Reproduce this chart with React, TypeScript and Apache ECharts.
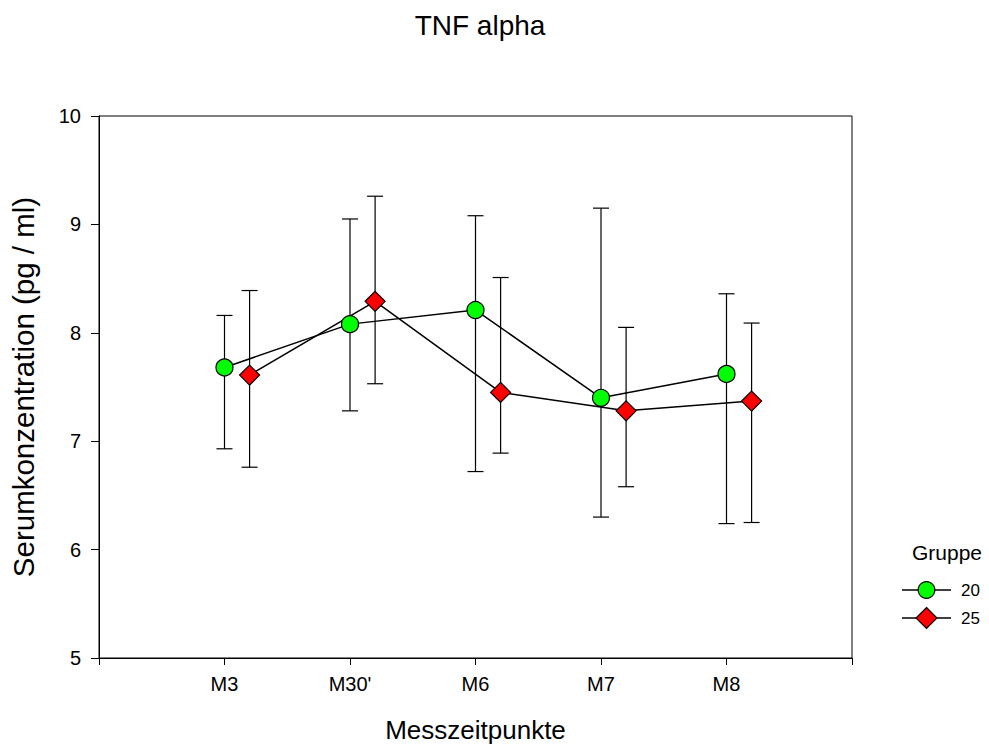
import React, { useEffect, useRef } from "react";
import * as echarts from "echarts";

const categories = ["M3", "M30'", "M6", "M7", "M8"];
const groupNames = ["20", "25"];
const legendTitle = "Gruppe";
const g20Mean = [7.68, 8.08, 8.21, 7.40, 7.62];
const g20Upper = [8.16, 9.05, 9.08, 9.15, 8.36];
const g20Lower = [6.93, 7.28, 6.72, 6.30, 6.24];
const g25Mean = [7.61, 8.29, 7.45, 7.28, 7.37];
const g25Upper = [8.39, 9.26, 8.51, 8.05, 8.09];
const g25Lower = [6.76, 7.53, 6.89, 6.58, 6.25];
const offsets = [0, 0.2];

export default function App() {
  const ref = useRef<HTMLDivElement>(null);
  useEffect(() => {
    document.body.style.margin = "0";
    const chart = echarts.init(ref.current!, null, { renderer: "svg" });
    const font = "Liberation Sans, Arial, sans-serif";
    const mkPts = (mean: number[], off: number) => mean.map((v, i) => [i + 1 + off, v]);
    const mkErr = (lo: number[], hi: number[], off: number) =>
      lo.map((v, i) => [i + 1 + off, v, hi[i]]);
    const errSeries = (data: number[][]) => ({
      type: "custom",
      z: 1,
      silent: true,
      renderItem: (params: any, api: any) => {
        const x = api.value(0);
        const lo = api.coord([x, api.value(1)]);
        const hi = api.coord([x, api.value(2)]);
        const w = 8;
        const st = { stroke: "#000", lineWidth: 1.2 };
        return {
          type: "group",
          children: [
            { type: "line", shape: { x1: lo[0], y1: lo[1], x2: hi[0], y2: hi[1] }, style: st },
            { type: "line", shape: { x1: lo[0] - w, y1: lo[1], x2: lo[0] + w, y2: lo[1] }, style: st },
            { type: "line", shape: { x1: hi[0] - w, y1: hi[1], x2: hi[0] + w, y2: hi[1] }, style: st },
          ],
        };
      },
      data,
    });
    const lx = 902, lw = 49, ly = [590, 618];
    const legendGraphics: any[] = [
      {
        type: "text",
        x: 912,
        y: 542,
        style: { text: legendTitle, fontFamily: font, fontSize: 21, fill: "#000" },
      },
      { type: "line", shape: { x1: lx, y1: ly[0], x2: lx + lw, y2: ly[0] }, style: { stroke: "#000", lineWidth: 1.5 } },
      { type: "circle", shape: { cx: lx + lw / 2, cy: ly[0], r: 8.3 }, style: { fill: "#00ff00", stroke: "#000", lineWidth: 1.2 } },
      { type: "text", x: 961, y: ly[0], style: { text: groupNames[0], fontFamily: font, fontSize: 17, fill: "#000", verticalAlign: "middle" } },
      { type: "line", shape: { x1: lx, y1: ly[1], x2: lx + lw, y2: ly[1] }, style: { stroke: "#000", lineWidth: 1.5 } },
      {
        type: "polygon",
        shape: { points: [[lx + lw / 2, ly[1] - 10.5], [lx + lw / 2 + 10.5, ly[1]], [lx + lw / 2, ly[1] + 10.5], [lx + lw / 2 - 10.5, ly[1]]] },
        style: { fill: "#ff0000", stroke: "#000", lineWidth: 1.2 },
      },
      { type: "text", x: 961, y: ly[1], style: { text: groupNames[1], fontFamily: font, fontSize: 17, fill: "#000", verticalAlign: "middle" } },
    ];
    chart.setOption({
      animation: false,
      backgroundColor: "#fff",
      title: {
        text: "TNF alpha",
        left: 475,
        textAlign: "center",
        top: 6,
        textStyle: { fontFamily: font, fontSize: 28, fontWeight: "normal", color: "#000" },
      },
      graphic: legendGraphics,
      grid: {
        left: 99,
        right: 137,
        top: 116,
        bottom: 90,
        show: true,
        borderColor: "#000",
        borderWidth: 1,
        backgroundColor: "transparent",
      },
      xAxis: {
        type: "value",
        min: 0,
        max: 6,
        interval: 1,
        name: "Messzeitpunkte",
        nameLocation: "middle",
        nameGap: 59,
        nameTextStyle: { fontFamily: font, fontSize: 26, color: "#000" },
        axisLine: { lineStyle: { color: "#000", width: 1 } },
        axisTick: { length: 7, lineStyle: { color: "#000" } },
        splitLine: { show: false },
        axisLabel: {
          fontFamily: font,
          fontSize: 20,
          color: "#000",
          margin: 16,
          showMinLabel: true,
          showMaxLabel: true,
          formatter: (v: number) => (v >= 1 && v <= 5 ? categories[v - 1] : ""),
        },
      },
      yAxis: {
        type: "value",
        min: 5,
        max: 10,
        interval: 1,
        name: "Serumkonzentration (pg / ml)",
        nameLocation: "middle",
        nameGap: 61,
        nameTextStyle: { fontFamily: font, fontSize: 29.5, color: "#000" },
        axisLine: { show: true, lineStyle: { color: "#000", width: 1 } },
        axisTick: { show: true, length: 8, lineStyle: { color: "#000" } },
        splitLine: { show: false },
        axisLabel: { fontFamily: font, fontSize: 20, color: "#000", margin: 18 },
      },
      series: [
        errSeries(mkErr(g20Lower, g20Upper, offsets[0])),
        errSeries(mkErr(g25Lower, g25Upper, offsets[1])),
        {
          name: groupNames[0],
          type: "line",
          z: 3,
          data: mkPts(g20Mean, offsets[0]),
          symbol: "circle",
          symbolSize: 17,
          lineStyle: { color: "#000", width: 1.5 },
          itemStyle: { color: "#00ff00", borderColor: "#000", borderWidth: 1.2 },
        },
        {
          name: groupNames[1],
          type: "line",
          z: 3,
          data: mkPts(g25Mean, offsets[1]),
          symbol: "diamond",
          symbolSize: 20,
          lineStyle: { color: "#000", width: 1.5 },
          itemStyle: { color: "#ff0000", borderColor: "#000", borderWidth: 1.2 },
        },
      ],
    });
    return () => chart.dispose();
  }, []);
  return <div ref={ref} style={{ width: 989, height: 748 }} />;
}
